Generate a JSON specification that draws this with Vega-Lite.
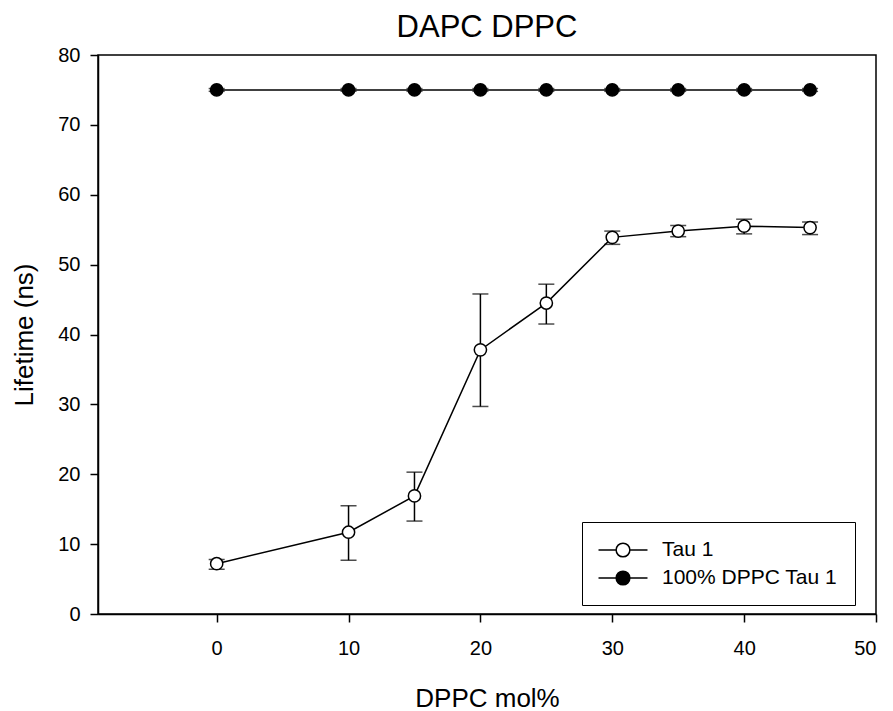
{
  "$schema": "https://vega.github.io/schema/vega-lite/v6.json",
  "autosize": {"type": "none"},
  "width": 778,
  "height": 559,
  "padding": {"left": 98, "top": 55, "right": 17, "bottom": 97},
  "background": "white",
  "title": {"text": "DAPC DPPC", "font": "Liberation Sans", "fontSize": 31, "fontWeight": "normal", "color": "black", "baseline": "alphabetic", "offset": -23},
  "config": {
    "view": {"stroke": "black", "strokeWidth": 1.5},
    "axis": {
      "domainColor": "black", "domainWidth": 1.5, "tickColor": "black", "tickWidth": 1.5, "tickSize": 8,
      "grid": false,
      "labelFont": "Liberation Sans", "labelFontSize": 20, "labelColor": "black",
      "titleFont": "Liberation Sans", "titleFontSize": 26, "titleFontWeight": "normal", "titleColor": "black"
    },
    "legend": {
      "labelFont": "Liberation Sans", "labelFontSize": 21, "labelColor": "black", "labelLimit": 400
    }
  },
  "data": {
    "values": [
      {"series": "Tau 1", "x": 0, "y": 7.2, "lo": 6.4, "hi": 7.8},
      {"series": "Tau 1", "x": 10, "y": 11.7, "lo": 7.7, "hi": 15.5},
      {"series": "Tau 1", "x": 15, "y": 16.9, "lo": 13.3, "hi": 20.3},
      {"series": "Tau 1", "x": 20, "y": 37.8, "lo": 29.7, "hi": 45.8},
      {"series": "Tau 1", "x": 25, "y": 44.5, "lo": 41.5, "hi": 47.2},
      {"series": "Tau 1", "x": 30, "y": 53.9, "lo": 52.9, "hi": 54.8},
      {"series": "Tau 1", "x": 35, "y": 54.8, "lo": 54.0, "hi": 55.6},
      {"series": "Tau 1", "x": 40, "y": 55.5, "lo": 54.4, "hi": 56.5},
      {"series": "Tau 1", "x": 45, "y": 55.3, "lo": 54.3, "hi": 56.1},
      {"series": "100% DPPC Tau 1", "x": 0, "y": 75, "lo": 74.8, "hi": 75.2},
      {"series": "100% DPPC Tau 1", "x": 10, "y": 75, "lo": 74.8, "hi": 75.2},
      {"series": "100% DPPC Tau 1", "x": 15, "y": 75, "lo": 74.8, "hi": 75.2},
      {"series": "100% DPPC Tau 1", "x": 20, "y": 75, "lo": 74.8, "hi": 75.2},
      {"series": "100% DPPC Tau 1", "x": 25, "y": 75, "lo": 74.8, "hi": 75.2},
      {"series": "100% DPPC Tau 1", "x": 30, "y": 75, "lo": 74.8, "hi": 75.2},
      {"series": "100% DPPC Tau 1", "x": 35, "y": 75, "lo": 74.8, "hi": 75.2},
      {"series": "100% DPPC Tau 1", "x": 40, "y": 75, "lo": 74.8, "hi": 75.2},
      {"series": "100% DPPC Tau 1", "x": 45, "y": 75, "lo": 74.8, "hi": 75.2}
    ]
  },
  "encoding": {
    "x": {"field": "x", "type": "quantitative",
      "scale": {"domain": [-9, 50], "nice": false, "zero": false},
      "axis": {"title": "DPPC mol%", "values": [0, 10, 20, 30, 40, 50], "labelPadding": 16, "titlePadding": 27}},
    "y": {"field": "y", "type": "quantitative",
      "scale": {"domain": [0, 80], "nice": false},
      "axis": {"title": "Lifetime (ns)", "values": [0, 10, 20, 30, 40, 50, 60, 70, 80], "labelPadding": 10, "titlePadding": 20}}
  },
  "layer": [
    {
      "mark": {"type": "rule", "color": "black", "strokeWidth": 1.5},
      "encoding": {"y": {"field": "lo", "type": "quantitative"}, "y2": {"field": "hi"}}
    },
    {
      "mark": {"type": "tick", "orient": "horizontal", "color": "black", "size": 16, "thickness": 1.5},
      "encoding": {"y": {"field": "lo", "type": "quantitative"}}
    },
    {
      "mark": {"type": "tick", "orient": "horizontal", "color": "black", "size": 16, "thickness": 1.5},
      "encoding": {"y": {"field": "hi", "type": "quantitative"}}
    },
    {
      "mark": {"type": "line", "color": "black", "strokeWidth": 1.5},
      "encoding": {"detail": {"field": "series"}}
    },
    {
      "mark": {"type": "point", "shape": "circle", "filled": true, "stroke": "black", "strokeWidth": 1.5, "size": 150, "opacity": 1},
      "encoding": {
        "fill": {"field": "series", "type": "nominal",
          "scale": {"domain": ["Tau 1", "100% DPPC Tau 1"], "range": ["white", "black"]},
          "legend": {
            "title": null, "orient": "none", "legendX": 484, "legendY": 467,
            "symbolType": "M-0.7,0A0.7,0.7 0 1,1 0.7,0A0.7,0.7 0 1,1 -0.7,0ZM-2.5,0L-0.7,0M0.7,0L2.5,0",
            "symbolSize": 384, "symbolStrokeColor": "black", "symbolStrokeWidth": 1.5,
            "symbolOffset": 13, "labelOffset": 28, "rowPadding": 7,
            "padding": 17, "strokeColor": "black", "fillColor": "white"
          }
        }
      }
    }
  ]
}
